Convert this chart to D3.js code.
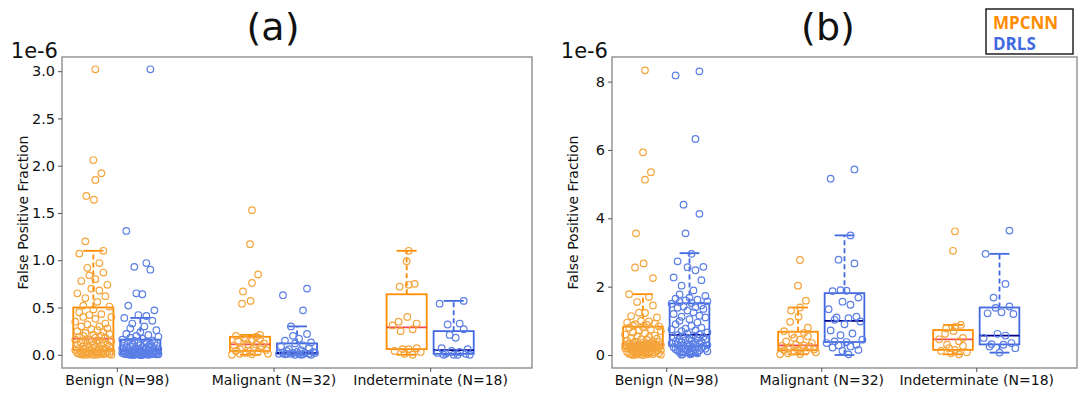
<!DOCTYPE html>
<html>
<head>
<meta charset="utf-8">
<script src="https://cdn.jsdelivr.net/npm/d3@7"></script>
<style>
  body { margin: 0; background: #fff; }
</style>
</head>
<body>
<svg id="chart" width="1081" height="397"></svg>
<script>
const categories = ['Benign (N=98)', 'Malignant (N=32)', 'Indeterminate (N=18)'];
const methods = ['MPCNN', 'DRLS'];

// panel (a), values in units of 1e-6
const aMpcnnBenign = [3.02, 2.06, 1.92, 1.85, 1.68, 1.64, 1.2, 1.1, 1.07, 0.97, 0.92, 0.87, 0.84, 0.8, 0.78, 0.74, 0.7, 0.68, 0.65, 0.62, 0.6, 0.56, 0.52, 0.51,
  0.48, 0.45, 0.43, 0.42, 0.4, 0.4, 0.38, 0.35, 0.33, 0.32, 0.3, 0.3, 0.28, 0.27, 0.26, 0.25, 0.24, 0.23, 0.22, 0.21, 0.2, 0.2, 0.19, 0.18, 0.18,
  0.16, 0.16, 0.15, 0.15, 0.14, 0.14, 0.13, 0.13, 0.12, 0.12, 0.11, 0.11, 0.1, 0.1, 0.09, 0.09, 0.08, 0.08, 0.07, 0.07, 0.06, 0.06, 0.05, 0.05,
  0.045, 0.04, 0.04, 0.035, 0.03, 0.03, 0.03, 0.025, 0.02, 0.02, 0.02, 0.015, 0.015, 0.01, 0.01, 0.01, 0.01, 0.005, 0.005, 0.005, 0, 0, 0, 0, 0];
const aDrlsBenign = [3.02, 1.31, 0.97, 0.93, 0.9, 0.65, 0.64, 0.52, 0.47, 0.42, 0.41, 0.39, 0.36, 0.33, 0.3, 0.28, 0.26, 0.24, 0.22, 0.21, 0.2, 0.19, 0.18, 0.17,
  0.16, 0.15, 0.15, 0.14, 0.14, 0.13, 0.13, 0.12, 0.12, 0.11, 0.11, 0.1, 0.1, 0.09, 0.09, 0.08, 0.08, 0.08, 0.07, 0.07, 0.07, 0.06, 0.06, 0.06, 0.05,
  0.05, 0.05, 0.045, 0.045, 0.04, 0.04, 0.04, 0.035, 0.035, 0.03, 0.03, 0.03, 0.025, 0.025, 0.02, 0.02, 0.02, 0.02, 0.015, 0.015, 0.015, 0.01, 0.01, 0.01,
  0.01, 0.01, 0.01, 0.01, 0.01, 0.005, 0.005, 0.005, 0.005, 0.005, 0.005, 0.005, 0.005, 0.005, 0.005, 0, 0, 0, 0, 0, 0, 0, 0, 0, 0];
const aMpcnnMalig = [1.53, 1.17, 0.85, 0.76, 0.67, 0.57, 0.54, 0.21, 0.2, 0.19, 0.18, 0.17, 0.16, 0.15, 0.14, 0.12,
  0.11, 0.11, 0.1, 0.09, 0.08, 0.07, 0.06, 0.05, 0.04, 0.04, 0.03, 0.02, 0.01, 0.01, 0.005, 0];
const aDrlsMalig = [0.7, 0.63, 0.47, 0.3, 0.22, 0.2, 0.17, 0.15, 0.13, 0.12, 0.1, 0.09, 0.07, 0.06, 0.05, 0.04,
  0.03, 0.03, 0.02, 0.02, 0.02, 0.02, 0.01, 0.01, 0.01, 0.01, 0.01, 0.005, 0.005, 0, 0, 0];
const aMpcnnIndet = [1.1, 0.99, 0.75, 0.74, 0.72, 0.4, 0.35, 0.33, 0.31, 0.27, 0.25, 0.07, 0.06, 0.06, 0.04, 0.03, 0.01, 0];
const aDrlsIndet = [0.57, 0.54, 0.33, 0.32, 0.27, 0.21, 0.18, 0.07, 0.06, 0.04, 0.03, 0.02, 0.01, 0.01, 0, 0, 0, 0];

// box stats per category: [lower whisker, q1, median, q3, upper whisker]
const aBoxMpcnn = [[0, 0.05, 0.17, 0.5, 1.1], [0, 0.04, 0.11, 0.19, 0.21], [0, 0.06, 0.29, 0.64, 1.1]];
const aBoxDrls = [[0, 0.01, 0.05, 0.16, 0.39], [0, 0.01, 0.02, 0.12, 0.3], [0, 0.01, 0.05, 0.25, 0.57]];

// panel (b)
const bMpcnnBenign = [8.33, 5.93, 5.35, 5.13, 3.56, 2.68, 2.56, 2.25, 1.78, 1.7, 1.55, 1.45, 1.24, 1.23, 1.14, 1.1, 1.0, 0.98, 0.95, 0.92, 0.9, 0.88, 0.86, 0.84,
  0.82, 0.8, 0.75, 0.72, 0.7, 0.66, 0.63, 0.6, 0.57, 0.55, 0.52, 0.5, 0.48, 0.46, 0.44, 0.42, 0.4, 0.39, 0.38, 0.36, 0.35, 0.34, 0.33, 0.32, 0.31,
  0.31, 0.3, 0.3, 0.29, 0.29, 0.28, 0.28, 0.27, 0.27, 0.26, 0.26, 0.25, 0.25, 0.24, 0.24, 0.23, 0.23, 0.22, 0.22, 0.21, 0.21, 0.2, 0.2, 0.19,
  0.18, 0.17, 0.16, 0.15, 0.14, 0.13, 0.12, 0.11, 0.1, 0.09, 0.08, 0.07, 0.06, 0.05, 0.05, 0.04, 0.04, 0.03, 0.03, 0.02, 0.02, 0.01, 0.01, 0, 0];
const bDrlsBenign = [8.3, 8.18, 6.32, 4.4, 4.13, 3.56, 2.96, 2.74, 2.58, 2.57, 2.48, 2.27, 2.19, 2.03, 1.89, 1.77, 1.73, 1.68, 1.65, 1.62, 1.6, 1.57, 1.55, 1.52,
  1.5, 1.45, 1.42, 1.4, 1.38, 1.35, 1.3, 1.25, 1.2, 1.15, 1.12, 1.1, 1.05, 1.0, 0.95, 0.9, 0.85, 0.8, 0.77, 0.75, 0.72, 0.7, 0.66, 0.63, 0.6,
  0.58, 0.57, 0.55, 0.53, 0.52, 0.5, 0.48, 0.46, 0.45, 0.43, 0.42, 0.4, 0.39, 0.37, 0.36, 0.34, 0.33, 0.32, 0.31, 0.3, 0.29, 0.28, 0.27, 0.26,
  0.25, 0.24, 0.23, 0.22, 0.21, 0.2, 0.19, 0.18, 0.17, 0.16, 0.15, 0.14, 0.13, 0.12, 0.11, 0.1, 0.09, 0.08, 0.07, 0.06, 0.05, 0.04, 0.03, 0.02, 0.01];
const bMpcnnMalig = [2.78, 2.03, 1.59, 1.39, 1.3, 1.12, 0.97, 0.8, 0.7, 0.65, 0.6, 0.55, 0.5, 0.45, 0.4, 0.35,
  0.3, 0.28, 0.27, 0.25, 0.22, 0.2, 0.18, 0.16, 0.15, 0.14, 0.12, 0.1, 0.08, 0.05, 0.03, 0.02];
const bDrlsMalig = [5.43, 5.16, 3.5, 2.79, 2.68, 1.9, 1.88, 1.87, 1.68, 1.56, 1.47, 1.34, 1.12, 1.1, 1.08, 1.03,
  0.98, 0.9, 0.72, 0.63, 0.58, 0.45, 0.4, 0.38, 0.35, 0.3, 0.28, 0.25, 0.22, 0.15, 0.12, 0.02];
const bMpcnnIndet = [3.62, 3.05, 0.88, 0.82, 0.78, 0.7, 0.62, 0.5, 0.46, 0.4, 0.3, 0.27, 0.2, 0.15, 0.12, 0.08, 0.05, 0.02];
const bDrlsIndet = [3.64, 2.96, 2.08, 1.68, 1.42, 1.38, 1.25, 1.22, 1.2, 0.62, 0.57, 0.5, 0.35, 0.32, 0.3, 0.25, 0.2, 0.07];

const bBoxMpcnn = [[0, 0.19, 0.31, 0.83, 1.78], [0.02, 0.14, 0.28, 0.68, 1.39], [0.02, 0.15, 0.46, 0.73, 0.88]];
const bBoxDrls = [[0, 0.26, 0.59, 1.51, 2.98], [0, 0.38, 1.0, 1.81, 3.5], [0.07, 0.31, 0.57, 1.39, 2.96]];

const aTicks = [0, 0.5, 1.0, 1.5, 2.0, 2.5, 3.0];
const bTicks = [0, 2, 4, 6, 8];

// horizontal spread of the strip points, as a share of half a box
const jitter = [0.1, 0, 0.4, 0.1, -0.35, 0.03, -0.4, 0.5, -0.7, 0.3, -0.3, 0.5, -0.2, 0.1, -0.6, 0.7, -0.1, 0.3, -0.8, 0.6,
  -0.4, 0.2, -0.5, 0.8, 0, -0.7, 0.4, -0.2, 0.9, -0.5, 0.1, -0.9, 0.6, -0.3, 0.3, -0.6, 0.7, -0.1, 0.2, -0.8,
  0.5, -0.4, 0.8, 0, -0.5, 0.4, -0.7, 0.1, 0.6, -0.2, -0.9, 0.3, -0.4, 0.9, -0.1, 0.5, -0.6, 0.2, -0.3, 0.7,
  -0.8, 0, 0.4, -0.5, 0.8, -0.2, 0.1, -0.7, 0.6, -0.4, 0.3, -0.9, 0.5, -0.1, 0.2, -0.6, 0.9, -0.3, 0, 0.7,
  -0.5, 0.4, -0.8, 0.1, 0.6, -0.2, -0.4, 0.8, -0.7, 0.3, -0.1, 0.5, -0.6, 0.2, 0.9, -0.3, 0, -0.5];

const colors = {
  box: ['#ff8c00', '#4169e1'],
  median: ['#f24b4b', '#00008b'],
  dot: ['#f5a43a', '#5b7fe6']
};

const plotTop = 57, plotBottom = 368;
const svg = d3.select('#chart');

const panels = [
  { title: '(a)', titleX: 273, left: 62, right: 532, domain: [-0.14, 3.15], ticks: aTicks, fmt: d3.format('.1f'),
    points: [[aMpcnnBenign, aMpcnnMalig, aMpcnnIndet], [aDrlsBenign, aDrlsMalig, aDrlsIndet]],
    boxes: [aBoxMpcnn, aBoxDrls] },
  { title: '(b)', titleX: 828, left: 612, right: 1077, domain: [-0.38, 8.72], ticks: bTicks, fmt: d3.format('d'),
    points: [[bMpcnnBenign, bMpcnnMalig, bMpcnnIndet], [bDrlsBenign, bDrlsMalig, bDrlsIndet]],
    boxes: [bBoxMpcnn, bBoxDrls] }
];

panels.forEach(p => {
  const g = svg.append('g');
  const x = d3.scaleLinear().domain([-0.35, 2.65]).range([p.left, p.right]);
  const y = d3.scaleLinear().domain(p.domain).range([plotBottom, plotTop]);
  const offset = [-0.15, 0.15];
  const boxW = x(0.256) - x(0);

  g.append('rect')
    .attr('x', p.left).attr('y', plotTop)
    .attr('width', p.right - p.left).attr('height', plotBottom - plotTop)
    .attr('fill', 'none').attr('stroke', '#8f8f8f').attr('stroke-width', 1.4);

  g.append('g')
    .attr('transform', `translate(${p.left},0)`)
    .call(d3.axisLeft(y).tickValues(p.ticks).tickFormat(p.fmt).tickSize(4).tickPadding(3))
    .call(a => a.select('.domain').remove())
    .call(a => a.selectAll('line').attr('stroke', '#555'))
    .call(a => a.selectAll('text').attr('font-family', 'DejaVu Sans').attr('font-size', 14.5).attr('fill', '#111'));

  g.append('g')
    .attr('transform', `translate(0,${plotBottom})`)
    .call(d3.axisBottom(x).tickValues([0, 1, 2]).tickFormat(i => categories[i]).tickSize(4).tickPadding(3))
    .call(a => a.select('.domain').remove())
    .call(a => a.selectAll('line').attr('stroke', '#555'))
    .call(a => a.selectAll('text').attr('font-family', 'DejaVu Sans').attr('font-size', 14).attr('fill', '#111'));

  g.append('text')
    .attr('transform', `translate(${p.left - 34},${(plotTop + plotBottom) / 2}) rotate(-90)`)
    .attr('text-anchor', 'middle')
    .attr('font-family', 'DejaVu Sans').attr('font-size', 14).attr('fill', '#111')
    .text('False Positive Fraction');

  g.append('text')
    .attr('x', p.left - 4).attr('y', 58)
    .attr('text-anchor', 'end')
    .attr('font-family', 'DejaVu Sans').attr('font-size', 21).attr('fill', '#111')
    .text('1e-6');

  g.append('text')
    .attr('x', p.titleX).attr('y', 40)
    .attr('text-anchor', 'middle')
    .attr('font-family', 'DejaVu Sans').attr('font-size', 38).attr('fill', '#111')
    .text(p.title);

  methods.forEach((m, mi) => {
    p.boxes[mi].forEach((s, ci) => {
      const cx = x(ci + offset[mi]);
      const bg = g.append('g');
      // whiskers
      bg.selectAll('line.whisker')
        .data([[s[3], s[4]], [s[1], s[0]]])
        .join('line')
        .attr('x1', cx).attr('x2', cx)
        .attr('y1', d => y(d[0])).attr('y2', d => y(d[1]))
        .attr('stroke', colors.box[mi]).attr('stroke-width', 1.8)
        .attr('stroke-dasharray', '5,3');
      // caps
      bg.selectAll('line.cap')
        .data([s[0], s[4]])
        .join('line')
        .attr('x1', cx - boxW / 4).attr('x2', cx + boxW / 4)
        .attr('y1', d => y(d)).attr('y2', d => y(d))
        .attr('stroke', colors.box[mi]).attr('stroke-width', 1.8);
      bg.append('rect')
        .attr('x', cx - boxW / 2).attr('y', y(s[3]))
        .attr('width', boxW).attr('height', y(s[1]) - y(s[3]))
        .attr('fill', 'none').attr('stroke', colors.box[mi]).attr('stroke-width', 1.8);
      bg.append('line')
        .attr('x1', cx - boxW / 2).attr('x2', cx + boxW / 2)
        .attr('y1', y(s[2])).attr('y2', y(s[2]))
        .attr('stroke', colors.median[mi]).attr('stroke-width', 1.8);
    });

    p.points[mi].forEach((vals, ci) => {
      const cx = x(ci + offset[mi]);
      g.append('g').selectAll('circle')
        .data(vals)
        .join('circle')
        .attr('cx', (d, k) => cx + jitter[(k + mi * 7) % jitter.length] * boxW / 2)
        .attr('cy', d => y(d))
        .attr('r', 3.3)
        .attr('fill', 'none')
        .attr('stroke', colors.dot[mi])
        .attr('stroke-width', 1.2);
    });
  });
});

// legend
const legend = svg.append('g');
legend.append('rect')
  .attr('x', 986).attr('y', 9).attr('width', 87).attr('height', 45)
  .attr('fill', '#fff').attr('stroke', '#222').attr('stroke-width', 1.5);
legend.selectAll('text')
  .data(methods)
  .join('text')
  .attr('x', 993).attr('y', (d, i) => 29 + i * 21)
  .attr('font-family', 'Open Sans').attr('font-weight', 'bold').attr('font-size', 17)
  .attr('fill', (d, i) => colors.box[i])
  .text(d => d);
</script>
</body>
</html>
